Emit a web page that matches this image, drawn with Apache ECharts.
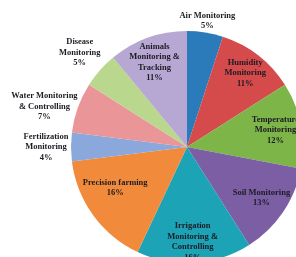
<!DOCTYPE html>
<html>
<head>
<meta charset="utf-8">
<script src="https://cdn.jsdelivr.net/npm/echarts@6/dist/echarts.min.js"></script>
<style>
	html, body { margin: 0; padding: 0; background: #fff; }
	#chart { width: 296px; height: 257px; }
</style>
</head>
<body>
<div id="chart"></div>
<script>
// Slice data, clockwise from the top
const categories = ['Air Monitoring', 'Humidity Monitoring', 'Temperature Monitoring', 'Soil Monitoring',
	'Irrigation Monitoring & Controlling', 'Precision farming', 'Fertilization Monitoring',
	'Water Monitoring & Controlling', 'Disease Monitoring', 'Animals Monitoring & Tracking']
const shares = [5, 11, 12, 13, 16, 16, 4, 7, 5, 11]
const labelLines = [
	'Air Monitoring', 'Humidity\nMonitoring', 'Temperature\nMonitoring', 'Soil Monitoring',
	'Irrigation\nMonitoring &\nControlling', 'Precision farming', 'Fertilization\nMonitoring',
	'Water Monitoring\n& Controlling', 'Disease\nMonitoring', 'Animals\nMonitoring &\nTracking'
]
// which labels sit outside the pie
const outsideLabel = [true, false, false, false, false, false, true, true, true, false]

// style
const colors = ['#2b7bbb', '#d54a4b', '#7db548', '#7c5ea4', '#1ca3b6', '#f28a3b',
	'#8aa8dc', '#ea9598', '#b9d78d', '#b6a7d3']
const labelNudge = [[-2, 15], [3, -3], [0, 0], [0, 0], [0, 5], [1, -12], [2, 0], [-8, 8], [0, 0], [-2, 0]]

const chart = echarts.init(document.getElementById('chart'))

const labelStyle = {
	fontFamily: 'Liberation Serif',
	fontWeight: 'bold',
	fontSize: 8.5,
	lineHeight: 10.5,
	color: '#1c1c24',
	align: 'center'
}

const labelData = (outside) => shares.map((v, i) => ({
	name: categories[i],
	value: v,
	label: { show: outsideLabel[i] === outside }
}))

const labelSeries = (radius, outside) => ({
	type: 'pie',
	center: [187, 147],
	radius: radius,
	startAngle: 90,
	silent: true,
	avoidLabelOverlap: false,
	itemStyle: { color: 'transparent', borderWidth: 0 },
	emphasis: { disabled: true },
	label: Object.assign({
		position: 'inside',
		formatter: (p) => labelLines[p.dataIndex] + '\n' + p.value + '%'
	}, labelStyle),
	labelLine: { show: false },
	labelLayout: (p) => ({ dx: labelNudge[p.dataIndex][0], dy: labelNudge[p.dataIndex][1] }),
	data: labelData(outside),
	z: 3
})

const option = {
	backgroundColor: '#fff',
	animation: false,
	series: [
		{
			type: 'pie',
			center: [187, 147],
			radius: [0, 116],
			startAngle: 90,
			silent: true,
			label: { show: false },
			labelLine: { show: false },
			itemStyle: { borderWidth: 0 },
			data: shares.map((v, i) => ({ name: categories[i], value: v, itemStyle: { color: colors[i] } }))
		},
		labelSeries([60, 114], false),
		labelSeries([125, 155], true)
	]
}

chart.setOption(option)
</script>
</body>
</html>
